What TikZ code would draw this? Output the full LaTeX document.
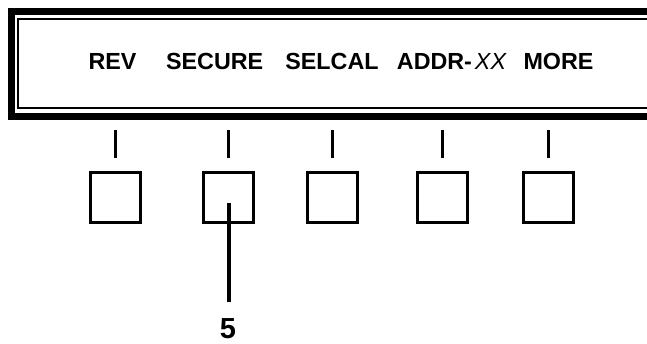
\documentclass[tikz,border=0pt]{standalone}
\usepackage{fontspec}
\setmainfont{Liberation Sans}
\usetikzlibrary{positioning,calc}

\begin{document}
\begin{tikzpicture}[x=1pt, y=-1pt, every node/.style={font=\fontsize{23.3}{26}\selectfont\bfseries, inner sep=0pt}]
  \tikzstyle{softkey}=[draw, line width=3pt, minimum size=50pt]
  \tikzstyle{tick}=[line width=3pt]
  \useasboundingbox (0,0) rectangle (647,343);
  % display frame
  \draw[line width=7pt] (11.5,11.5) rectangle (680,116.2);
  \draw[line width=2pt] (18,18.7) rectangle (680,108.3);
  % softkey labels
  \node[anchor=base] (rev) at (112.5,69.5) {REV};
  \node[anchor=base] (secure) at (214.7,69.5) {SECURE};
  \node[anchor=base] (selcal) at (332,69.5) {SELCAL};
  \node[anchor=base] (addr) at (451.5,69.5) {ADDR-\hspace{3pt}{\mdseries\itshape XX}};
  \node[anchor=base] (more) at (558.5,69.5) {MORE};
  % keys
  \foreach \i/\x in {1/115.5, 2/228, 3/332.7, 4/442.3, 5/548.7} {
    \node[softkey] (key\i) at (\x,197.5) {};
    \draw[tick] ($(key\i.north)+(0,-13)$) -- ++(0,-28);
  }
  % callout
  \coordinate (tip) at ($(key2.center)+(1,5.5)$);
  \node[anchor=base, font=\fontsize{29}{32}\selectfont\bfseries] (five) at (228,338.5) {5};
  \draw[line width=3.5pt, shorten >=16pt] (tip) -- (tip |- five.north);
\end{tikzpicture}
\end{document}
